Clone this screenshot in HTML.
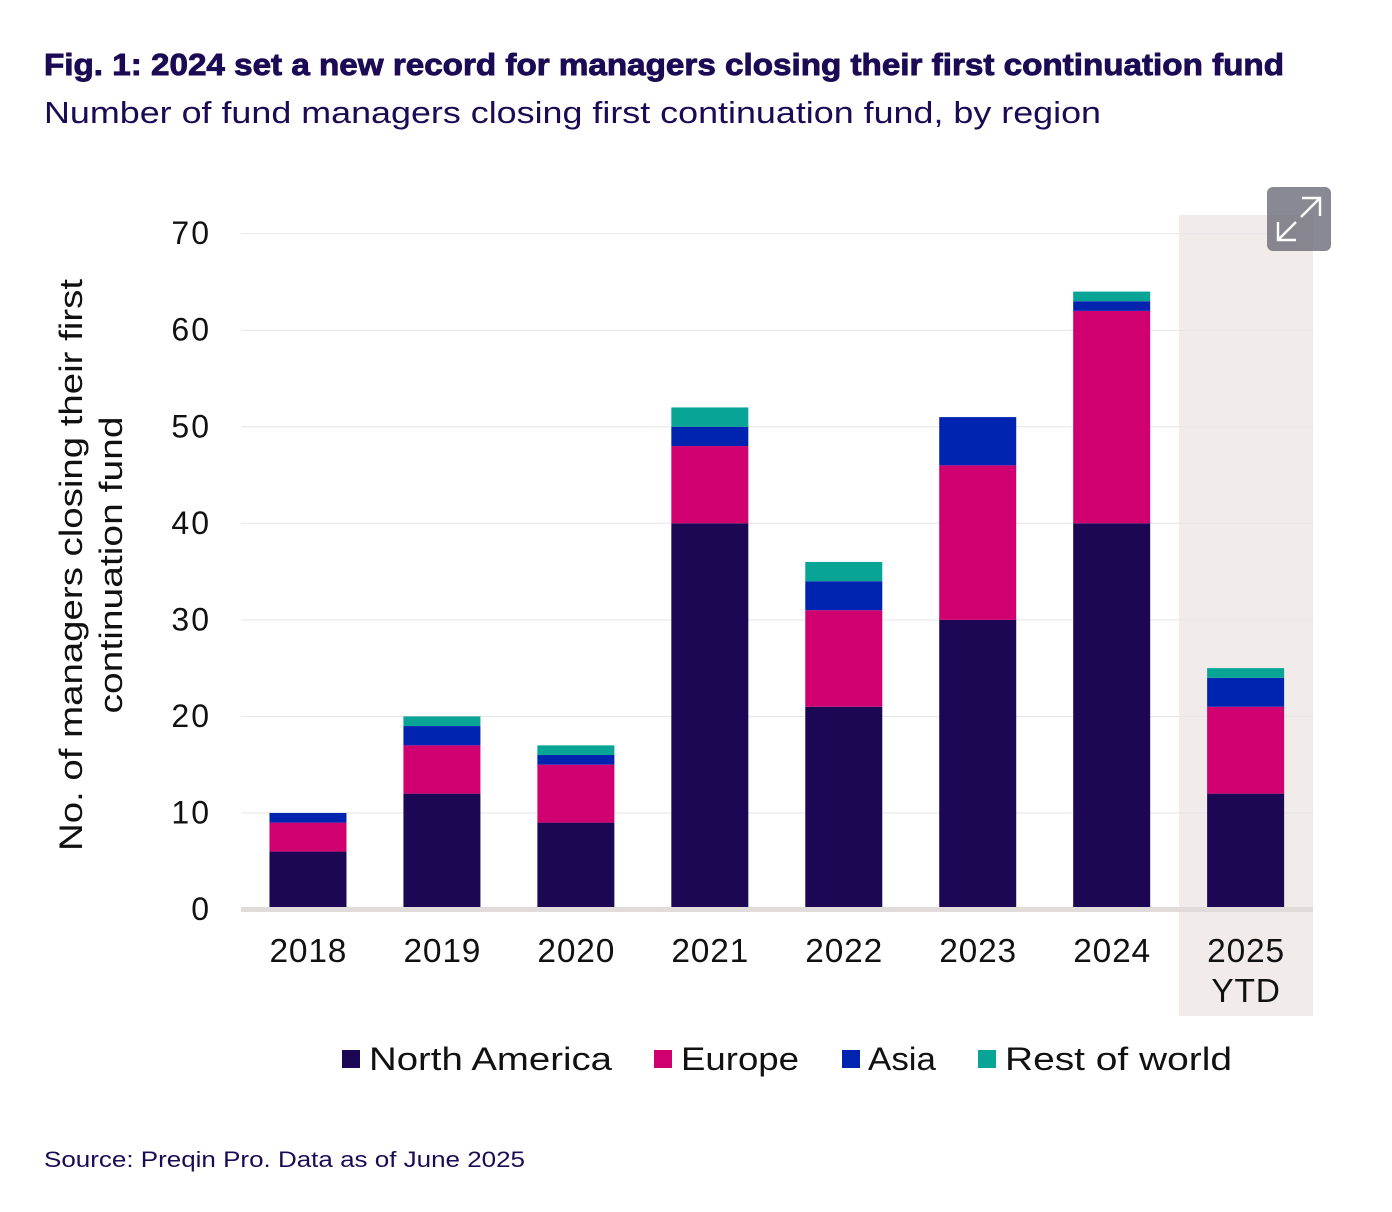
<!DOCTYPE html>
<html lang="en">
<head>
<meta charset="utf-8">
<title>Fig. 1: First continuation funds</title>
<style>
html,body{margin:0;padding:0;background:#fff;}
body{width:1392px;height:1212px;overflow:hidden;}
svg{display:block;font-family:"Liberation Sans",sans-serif;}
</style>
</head>
<body>
<svg id="chart" width="1392" height="1212" viewBox="0 0 1392 1212" xmlns="http://www.w3.org/2000/svg">
  <rect width="1392" height="1212" fill="#ffffff"/>
  <text x="44" y="75" font-size="31" font-weight="700" fill="#1c0a54" stroke="#1c0a54" stroke-width="0.9" textLength="1240" lengthAdjust="spacingAndGlyphs">Fig. 1: 2024 set a new record for managers closing their first continuation fund</text>
  <text x="44" y="123" font-size="31" fill="#1c0a54" textLength="1057" lengthAdjust="spacingAndGlyphs">Number of fund managers closing first continuation fund, by region</text>
  <rect x="1179" y="215" width="134" height="801" fill="#f1ecea"/>
  <g id="grid"></g>
  <g id="bars"></g>
  <rect x="241" y="907" width="1072" height="5" fill="#e1dcd9"/>
  <g id="yticks"></g>
  <g id="xticks"></g>
  <g font-size="32" fill="#111111" text-anchor="middle">
    <text transform="translate(82,565) rotate(-90)" textLength="572" lengthAdjust="spacingAndGlyphs">No. of managers closing their first</text>
    <text transform="translate(122,565) rotate(-90)" textLength="297" lengthAdjust="spacingAndGlyphs">continuation fund</text>
  </g>
  <g id="legend">
    <rect x="342" y="1050" width="18" height="18" fill="#1c0754"/>
    <text x="369" y="1070" font-size="32" fill="#111111" textLength="243" lengthAdjust="spacingAndGlyphs">North America</text>
    <rect x="654" y="1050" width="18" height="18" fill="#d00070"/>
    <text x="681" y="1070" font-size="32" fill="#111111" textLength="118" lengthAdjust="spacingAndGlyphs">Europe</text>
    <rect x="842" y="1050" width="18" height="18" fill="#0024b0"/>
    <text x="868" y="1070" font-size="32" fill="#111111" textLength="68" lengthAdjust="spacingAndGlyphs">Asia</text>
    <rect x="978" y="1050" width="18" height="18" fill="#08a496"/>
    <text x="1005" y="1070" font-size="32" fill="#111111" textLength="227" lengthAdjust="spacingAndGlyphs">Rest of world</text>
  </g>
  <text x="44" y="1167" font-size="22" fill="#1c0a54" textLength="481" lengthAdjust="spacingAndGlyphs">Source: Preqin Pro. Data as of June 2025</text>
  <g>
    <rect x="1267" y="187" width="64" height="64" rx="6" fill="#6f6f7b" fill-opacity="0.82"/>
    <path d="M1302 198H1320V216M1320 198L1301 217M1278 222V240H1296M1278 240L1296 222" fill="none" stroke="#ffffff" stroke-width="2.4"/>
  </g>
</svg>
<script>
const categories = ["2018", "2019", "2020", "2021", "2022", "2023", "2024", "2025 YTD"];
const northAmerica = [6, 12, 9, 40, 21, 30, 40, 12];
const europe = [3, 5, 6, 8, 10, 16, 22, 9];
const asia = [1, 2, 1, 2, 3, 5, 1, 3];
const restOfWorld = [0, 1, 1, 2, 2, 0, 1, 1];
const yTickValues = [0, 10, 20, 30, 40, 50, 60, 70];

const seriesList = [
  { key: "north-america", values: northAmerica, color: "#1c0754" },
  { key: "europe", values: europe, color: "#d00070" },
  { key: "asia", values: asia, color: "#0024b0" },
  { key: "rest-of-world", values: restOfWorld, color: "#08a496" }
];

const NS = "http://www.w3.org/2000/svg";
const plotLeft = 241;
const bandWidth = 133.95;
const barWidth = 77;
const y0 = 909.5;
const unit = 9.655;
function xCenter(i) { return plotLeft + bandWidth * (i + 0.5); }
function yPos(v) { return y0 - unit * v; }

const grid = document.getElementById("grid");
const yticks = document.getElementById("yticks");
yTickValues.forEach(function (t) {
  if (t !== 0) {
    const line = document.createElementNS(NS, "line");
    
    
    line.setAttribute("x1", plotLeft);
    line.setAttribute("x2", 1313);
    line.setAttribute("y1", yPos(t));
    line.setAttribute("y2", yPos(t));
    line.setAttribute("stroke", "#e6e4e6");
    line.setAttribute("stroke-width", "1");
    grid.appendChild(line);
  }
  const label = document.createElementNS(NS, "text");
  
  
  label.setAttribute("x", 211);
  label.setAttribute("y", yPos(t) + 10.5);
  label.setAttribute("text-anchor", "end");
  label.setAttribute("font-size", "32");
  label.setAttribute("letter-spacing", "2");
  label.setAttribute("fill", "#111111");
  label.textContent = String(t);
  yticks.appendChild(label);
});

const bars = document.getElementById("bars");
categories.forEach(function (cat, i) {
  let base = 0;
  seriesList.forEach(function (s) {
    const v = s.values[i];
    if (v > 0) {
      const r = document.createElementNS(NS, "rect");
      
      
      r.setAttribute("x", xCenter(i) - barWidth / 2);
      r.setAttribute("width", barWidth);
      r.setAttribute("y", yPos(base + v));
      r.setAttribute("height", unit * v);
      r.setAttribute("fill", s.color);
      bars.appendChild(r);
    }
    base += v;
  });
});

const xticks = document.getElementById("xticks");
categories.forEach(function (cat, i) {
  cat.split(" ").forEach(function (part, j) {
    const label = document.createElementNS(NS, "text");
    
    
    label.setAttribute("x", xCenter(i) + 0.4);
    label.setAttribute("y", 962 + j * 40);
    label.setAttribute("text-anchor", "middle");
    label.setAttribute("font-size", "33.5");
    label.setAttribute("letter-spacing", "0.8");
    label.setAttribute("fill", "#111111");
    label.textContent = part;
    xticks.appendChild(label);
  });
});
</script>
</body>
</html>
